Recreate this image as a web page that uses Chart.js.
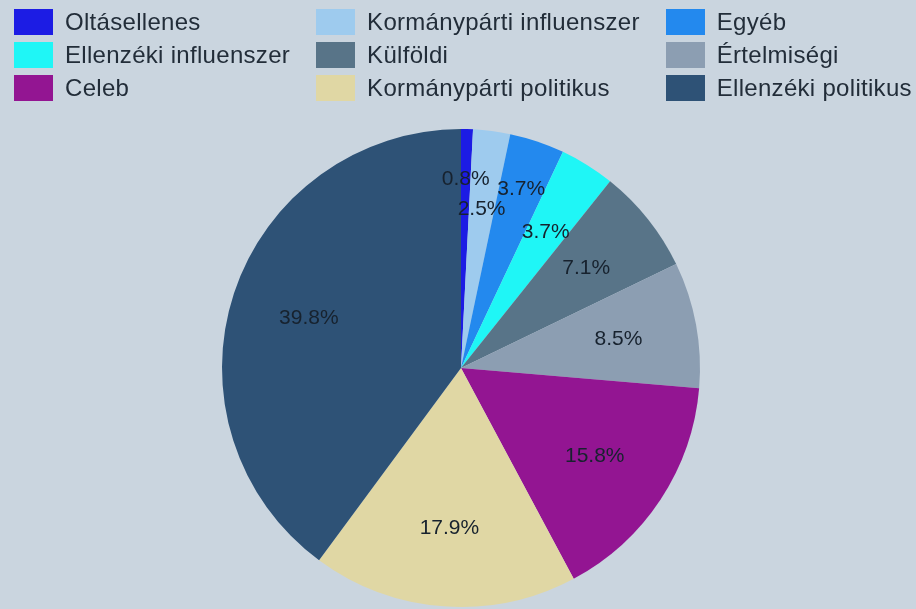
<!DOCTYPE html>
<html lang="hu">
<head>
<meta charset="utf-8">
<title>Megosztások forrás szerint</title>
<script src="https://cdn.jsdelivr.net/npm/chart.js@4.4.1/dist/chart.umd.min.js"></script>
<style>
    html, body {
        margin: 0;
        padding: 0;
        width: 916px;
        height: 609px;
        overflow: hidden;
        background: #cad5df;
        font-family: "Liberation Sans", Arial, sans-serif;
    }
    #legend {
        position: absolute;
        left: 14px;
        top: 9px;
        display: grid;
        grid-template-columns: repeat(3, auto);
        column-gap: 26px;
        row-gap: 7px;
        z-index: 2;
    }
    .legend-item {
        display: flex;
        align-items: center;
        height: 26px;
        font-size: 24px;
        letter-spacing: 0.3px;
        color: #222d39;
        white-space: nowrap;
    }
    .legend-box {
        width: 39px;
        height: 26px;
        margin-right: 12px;
        flex: none;
    }
    #chart-wrap {
        position: absolute;
        left: 0;
        top: 0;
        width: 916px;
        height: 609px;
    }
</style>
</head>
<body>
<div id="legend"></div>
<div id="chart-wrap"><canvas id="pieChart"></canvas></div>
<script>
const categories = [
    'Oltásellenes',
    'Kormánypárti influenszer',
    'Egyéb',
    'Ellenzéki influenszer',
    'Külföldi',
    'Értelmiségi',
    'Celeb',
    'Kormánypárti politikus',
    'Ellenzéki politikus'
];
const shares = [0.8, 2.5, 3.7, 3.7, 7.1, 8.5, 15.8, 17.9, 39.8];
const sliceColors = [
    '#1c1ce4', '#9ecbee', '#2389ee', '#1ff6f6', '#587488',
    '#8c9eb2', '#931592', '#e0d7a4', '#2e5276'
];

// percentage labels inside the slices; thin slices alternate outward so they don't collide
const sliceLabels = {
    id: 'sliceLabels',
    afterDatasetsDraw(chart) {
        const ctx = chart.ctx;
        const arcs = chart.getDatasetMeta(0).data;
        let smallCount = 0;
        ctx.save();
        ctx.font = '21px "Liberation Sans", Arial, sans-serif';
        ctx.fillStyle = '#17222e';
        ctx.textAlign = 'center';
        ctx.textBaseline = 'middle';
        arcs.forEach((arc, i) => {
            const p = arc.getProps(['x', 'y', 'startAngle', 'endAngle', 'outerRadius'], true);
            const mid = (p.startAngle + p.endAngle) / 2;
            let factor = 0.67;
            if (shares[i] < 5) {
                if (smallCount % 2 === 0) factor = 0.79;
                smallCount++;
            }
            const r = p.outerRadius * factor;
            ctx.fillText(shares[i].toFixed(1) + '%', p.x + Math.cos(mid) * r, p.y + Math.sin(mid) * r);
        });
        ctx.restore();
    }
};

const chart = new Chart(document.getElementById('pieChart'), {
    type: 'pie',
    data: {
        labels: categories,
        datasets: [{
            data: shares,
            backgroundColor: sliceColors,
            borderWidth: 0
        }]
    },
    options: {
        responsive: true,
        maintainAspectRatio: false,
        animation: false,
        layout: { padding: { top: 129, bottom: 2, left: 6, right: 0 } },
        plugins: {
            legend: { display: false },
            tooltip: { enabled: false }
        }
    },
    plugins: [sliceLabels]
});

// HTML legend laid out as a 3-column grid
const legendEl = document.getElementById('legend');
chart.options.plugins.legend.labels.generateLabels(chart).forEach(item => {
    const row = document.createElement('div');
    row.className = 'legend-item';
    row.innerHTML = `<span class="legend-box" style="background:${item.fillStyle}"></span><span>${item.text}</span>`;
    legendEl.appendChild(row);
});
</script>
</body>
</html>
